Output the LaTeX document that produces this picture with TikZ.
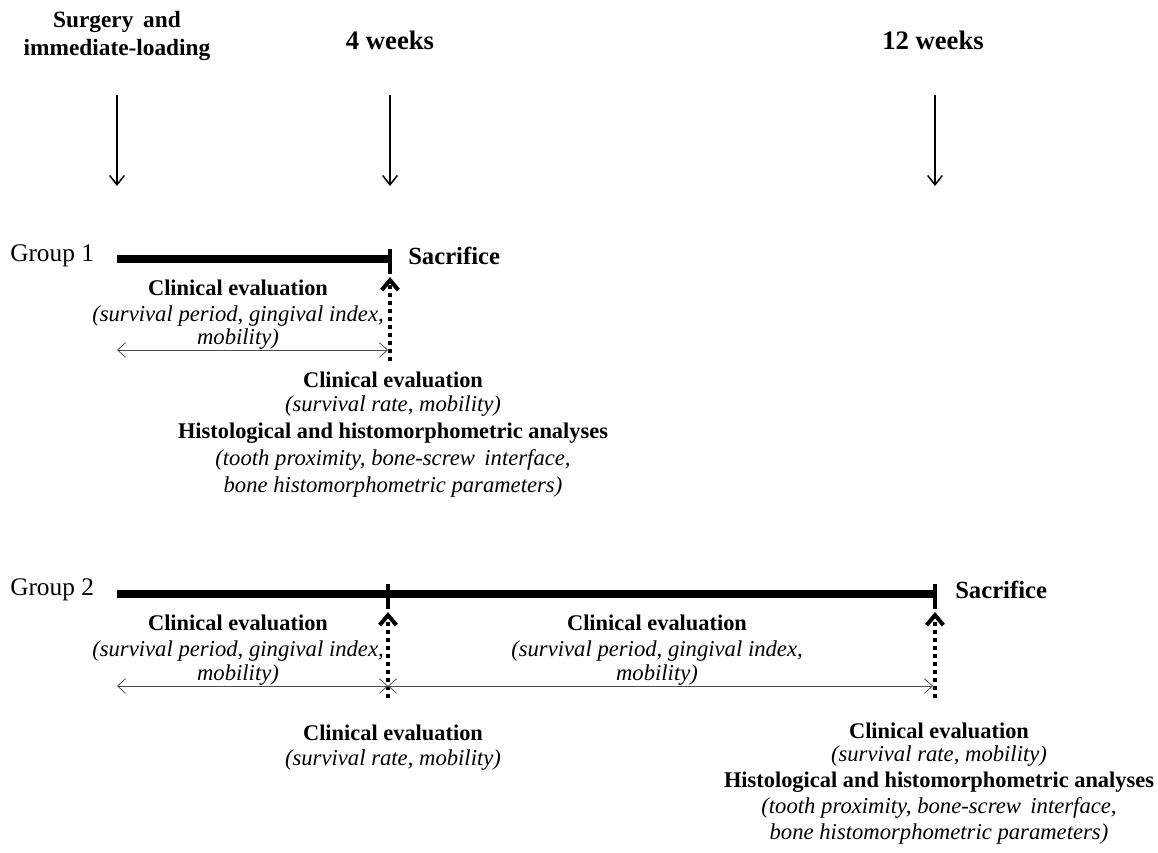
\documentclass[tikz,border=0pt]{standalone}
\usepackage{fontspec}
\setmainfont{Liberation Serif}
\usetikzlibrary{arrows.meta}
\begin{document}
\begin{tikzpicture}[x=0.75pt,y=-0.75pt,
  txt/.style={inner sep=0pt,font=\fontsize{16.8}{19}\selectfont},
  bold/.style={txt,font=\fontsize{16.8}{19}\selectfont\bfseries},
  ital/.style={txt,font=\fontsize{17}{19}\selectfont\itshape},
  title/.style={txt,font=\fontsize{17.5}{21}\selectfont\bfseries},
  bigtitle/.style={txt,font=\fontsize{20}{23}\selectfont\bfseries},
  sac/.style={txt,anchor=west,font=\fontsize{18.5}{21}\selectfont\bfseries},
  grp/.style={txt,anchor=west,font=\fontsize{19}{22}\selectfont},
  timeline/.style={line width=6pt},
  tickmark/.style={line width=3pt},
  downarrow/.style={line width=1.1pt,-{Straight Barb[length=7pt,width=11pt,line width=1.1pt]}},
  dotarrow/.style={line width=3pt,dash pattern=on 3pt off 3pt,-{Straight Barb[length=7.5pt,width=12.5pt,line width=3pt]}},
  span/.style={line width=0.6pt,gray!60!black,{Straight Barb[length=6pt,width=11pt,line width=0.6pt]}-{Straight Barb[length=6pt,width=11pt,line width=0.6pt]}}]
\useasboundingbox (0,0) rectangle (1158,853);
% titles
\node[title] (t0a) at (117,22) {Surgery\, and};
\node[title] (t0b) at (117,50) {immediate-loading};
\node[bigtitle] (t4) at (390,40) {4 weeks};
\node[bigtitle] (t12) at (933,40) {12 weeks};
\coordinate (a0s) at (117,95);  \coordinate (a0e) at (117,186);
\coordinate (a4s) at (390,95);  \coordinate (a4e) at (390,186);
\coordinate (a12s) at (935,95); \coordinate (a12e) at (935,186);
\draw[downarrow] (a0s) -- (a0e);
\draw[downarrow] (a4s) -- (a4e);
\draw[downarrow] (a12s) -- (a12e);
% Group 1
\node[grp] (g1) at (10,256) {Group 1};
\coordinate (g1s) at (117,259); \coordinate (g1e) at (390,259);
\draw[timeline] (g1s) -- (g1e);
\coordinate (g1ta) at (390,249); \coordinate (g1tb) at (390,274);
\draw[tickmark] (g1ta) -- (g1tb);
\node[sac] (sac1) at (408,256) {Sacrifice};
\coordinate (g1d) at (390,361); \coordinate (g1u) at (390,277);
\draw[dotarrow] (g1d) -- (g1u);
\node[bold] (ce1) at (238,288) {Clinical evaluation};
\node[ital] (sp1) at (238,316) {(survival period, gingival index,};
\node[ital] (mo1) at (238,339) {mobility)};
\coordinate (sa1) at (117,350); \coordinate (sb1) at (388,350);
\draw[span] (sa1) -- (sb1);
\node[bold] (ce2) at (393,380) {Clinical evaluation};
\node[ital] (sr2) at (393,406) {(survival rate, mobility)};
\node[bold] (hi2) at (393,433) {Histological and histomorphometric analyses};
\node[ital] (tp2) at (393,460) {(tooth proximity, bone-screw\, interface,};
\node[ital] (bh2) at (393,487) {bone histomorphometric parameters)};
% Group 2
\node[grp] (g2) at (10,590) {Group 2};
\coordinate (g2s) at (117,594); \coordinate (g2e) at (935,594);
\draw[timeline] (g2s) -- (g2e);
\coordinate (g2ma) at (388,584); \coordinate (g2mb) at (388,609);
\draw[tickmark] (g2ma) -- (g2mb);
\coordinate (g2ea) at (935,584); \coordinate (g2eb) at (935,609);
\draw[tickmark] (g2ea) -- (g2eb);
\node[sac] (sac2) at (955,590) {Sacrifice};
\coordinate (g2d1) at (388,698); \coordinate (g2u1) at (388,612);
\draw[dotarrow] (g2d1) -- (g2u1);
\coordinate (g2d2) at (935,698); \coordinate (g2u2) at (935,612);
\draw[dotarrow] (g2d2) -- (g2u2);
\node[bold] (ce3) at (238,623) {Clinical evaluation};
\node[ital] (sp3) at (238,651) {(survival period, gingival index,};
\node[ital] (mo3) at (238,675) {mobility)};
\node[bold] (ce4) at (657,623) {Clinical evaluation};
\node[ital] (sp4) at (657,651) {(survival period, gingival index,};
\node[ital] (mo4) at (657,675) {mobility)};
\coordinate (sa3) at (117,686); \coordinate (sb3) at (388,686);
\draw[span] (sa3) -- (sb3);
\coordinate (sa4) at (388,686); \coordinate (sb4) at (933,686);
\draw[span] (sa4) -- (sb4);
\node[bold] (ce5) at (393,733) {Clinical evaluation};
\node[ital] (sr5) at (393,760) {(survival rate, mobility)};
\node[bold] (ce6) at (939,731) {Clinical evaluation};
\node[ital] (sr6) at (939,756) {(survival rate, mobility)};
\node[bold] (hi6) at (939,782) {Histological and histomorphometric analyses};
\node[ital] (tp6) at (939,808) {(tooth proximity, bone-screw\, interface,};
\node[ital] (bh6) at (939,834) {bone histomorphometric parameters)};
\end{tikzpicture}
\end{document}
